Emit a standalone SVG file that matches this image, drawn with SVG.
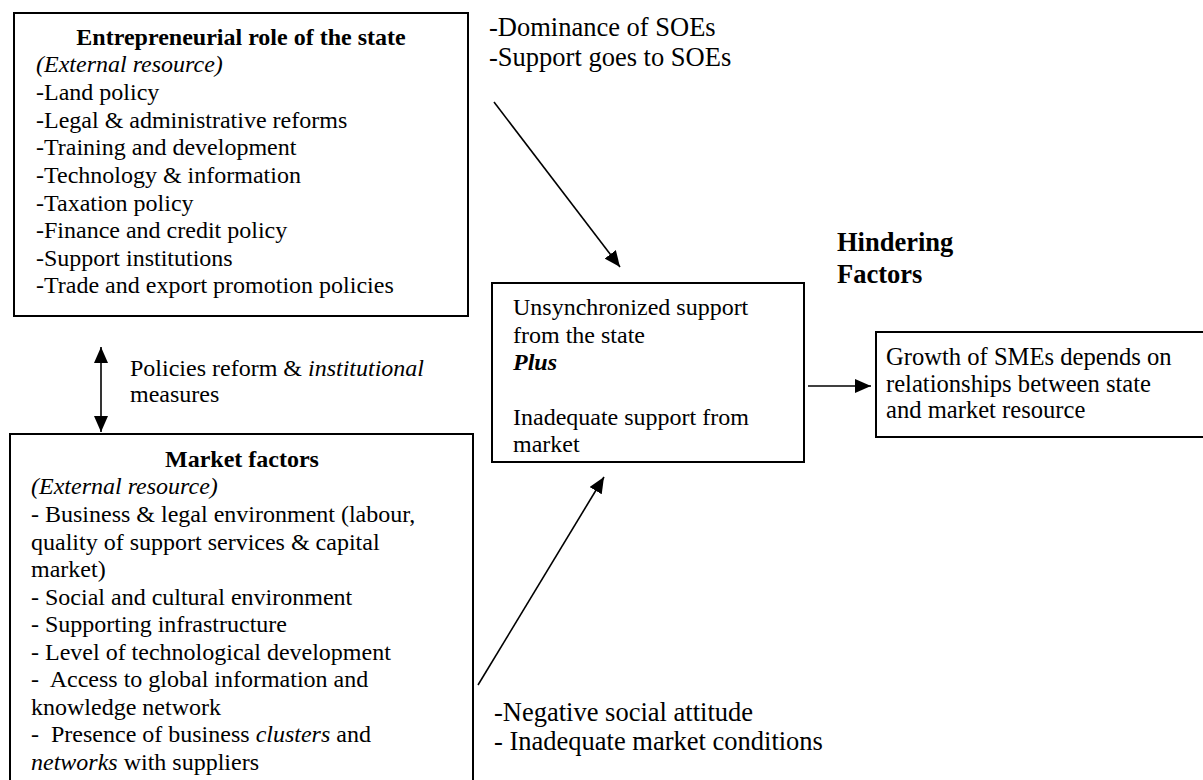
<svg xmlns="http://www.w3.org/2000/svg" width="1203" height="780" viewBox="0 0 1203 780">
<style>
text{font-family:"Liberation Serif","Times New Roman",serif;fill:#000;white-space:pre}
.t{font-size:24px}
.L{font-size:26.5px}
.b{font-weight:bold}
.i{font-style:italic}
.box{fill:#fff;stroke:#000;stroke-width:2}
.c{stroke:#000;stroke-width:1.6;fill:none}
</style>
<defs>
<marker id="ah" viewBox="0 0 10 10" refX="10" refY="5" markerWidth="10" markerHeight="10" markerUnits="userSpaceOnUse" orient="auto-start-reverse">
<path d="M0,0 L10,5 L0,10 z" fill="#000"/>
</marker>
<marker id="ah2" viewBox="0 0 16 14" refX="16" refY="7" markerWidth="16" markerHeight="14" markerUnits="userSpaceOnUse" orient="auto-start-reverse">
<path d="M0,0 L16,7 L0,14 z" fill="#000"/>
</marker>
</defs>
<g id="connectors">
<line class="c" x1="101" y1="347" x2="101" y2="432" marker-start="url(#ah2)" marker-end="url(#ah2)"/>
<line class="c" x1="494" y1="102" x2="620" y2="267" marker-end="url(#ah2)"/>
<line class="c" x1="478" y1="685" x2="604" y2="477" marker-end="url(#ah2)"/>
<line class="c" x1="808" y1="386" x2="871" y2="386" marker-end="url(#ah2)"/>
</g>
<g id="state">
<rect class="box" x="14" y="13" width="454" height="303"/>
<text class="t b" x="241" y="45" text-anchor="middle">Entrepreneurial role of the state</text>
<text class="t i" x="36" y="72">(External resource)</text>
<text class="t" x="36" y="100">-Land policy</text>
<text class="t" x="36" y="128">-Legal &amp; administrative reforms</text>
<text class="t" x="36" y="155">-Training and development</text>
<text class="t" x="36" y="183">-Technology &amp; information</text>
<text class="t" x="36" y="211">-Taxation policy</text>
<text class="t" x="36" y="238">-Finance and credit policy</text>
<text class="t" x="36" y="266">-Support institutions</text>
<text class="t" x="36" y="293">-Trade and export promotion policies</text>
</g>
<g id="policies-label">
<text class="t" x="130" y="376">Policies reform &amp; <tspan class="i">institutional</tspan></text>
<text class="t" x="130" y="402">measures</text>
</g>
<g id="market">
<rect class="box" x="10" y="434" width="463" height="360"/>
<text class="t b" x="242" y="467" text-anchor="middle">Market factors</text>
<text class="t i" x="31" y="494">(External resource)</text>
<text class="t" x="31" y="522">- Business &amp; legal environment (labour,</text>
<text class="t" x="31" y="550">quality of support services &amp; capital</text>
<text class="t" x="31" y="577">market)</text>
<text class="t" x="31" y="605">- Social and cultural environment</text>
<text class="t" x="31" y="632">- Supporting infrastructure</text>
<text class="t" x="31" y="660">- Level of technological development</text>
<text class="t" x="31" y="687">-  Access to global information and</text>
<text class="t" x="31" y="715">knowledge network</text>
<text class="t" x="31" y="742">-  Presence of business <tspan class="i">clusters</tspan> and</text>
<text class="t" x="31" y="770"><tspan class="i">networks</tspan> with suppliers</text>
</g>
<g id="soe-label">
<text class="L" x="489" y="36">-Dominance of SOEs</text>
<text class="L" x="489" y="66">-Support goes to SOEs</text>
</g>
<g id="social-label">
<text class="L" x="494" y="721">-Negative social attitude</text>
<text class="L" x="494" y="750">- Inadequate market conditions</text>
</g>
<g id="hindering">
<text class="L b" x="837" y="251">Hindering</text>
<text class="L b" x="837" y="283">Factors</text>
</g>
<g id="support">
<rect class="box" x="492" y="283" width="312" height="179"/>
<text class="t" x="513" y="315">Unsynchronized support</text>
<text class="t" x="513" y="343">from the state</text>
<text class="t b i" x="513" y="370">Plus</text>
<text class="t" x="513" y="425">Inadequate support from</text>
<text class="t" x="513" y="452">market</text>
</g>
<g id="growth">
<rect class="box" x="876" y="332" width="340" height="105"/>
<text class="t" x="886" y="365" style="font-size:24.6px">Growth of SMEs depends on</text>
<text class="t" x="886" y="391.5" style="font-size:24.6px">relationships between state</text>
<text class="t" x="886" y="418" style="font-size:24.6px">and market resource</text>
</g>
</svg>
